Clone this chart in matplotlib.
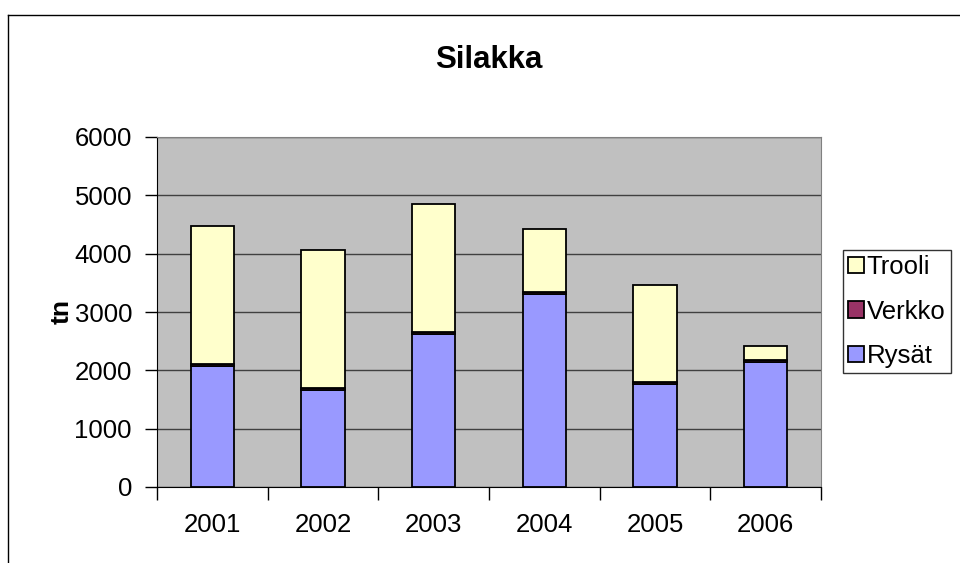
import numpy as np
import matplotlib.pyplot as plt
from matplotlib.lines import Line2D

plt.rcParams['font.family'] = ['Liberation Sans', 'DejaVu Sans']

years = ['2001', '2002', '2003', '2004', '2005', '2006']
rysat = [2070, 1670, 2630, 3310, 1770, 2150]
verkko = [35, 35, 35, 35, 35, 35]
trooli = [2375, 2365, 2195, 1075, 1655, 235]

W, H = 960, 563
fig = plt.figure(figsize=(W / 100, H / 100), dpi=100)

# outer chart border (extends past right/bottom edges)
fig.add_artist(Line2D([8 / W, 8 / W], [0, 1 - 15 / H], transform=fig.transFigure, color='black', lw=1))
fig.add_artist(Line2D([8 / W, 1], [1 - 15 / H, 1 - 15 / H], transform=fig.transFigure, color='black', lw=1))

ax = fig.add_axes([157 / W, 1 - 487 / H, (821 - 157) / W, (487 - 137) / H])
ax.set_facecolor('#C0C0C0')

x = np.arange(len(years))
bw = 0.39
r = np.array(rysat)
v = np.array(verkko)
t = np.array(trooli)
b1 = ax.bar(x, r, bw, color='#9999FF', edgecolor='black', lw=1.3, zorder=3, label='Rysät')
b2 = ax.bar(x, v, bw, bottom=r, color='#993366', edgecolor='black', lw=1.3, zorder=3, label='Verkko')
b3 = ax.bar(x, t, bw, bottom=r + v, color='#FFFFCC', edgecolor='black', lw=1.3, zorder=3, label='Trooli')

ax.set_xlim(-0.5, len(years) - 0.5)
ax.set_ylim(0, 6000)
ax.set_yticks(range(0, 6001, 1000))
ax.yaxis.grid(True, color='#404040', lw=1, zorder=1)
ax.set_axisbelow(True)

ax.set_xticks(x)
ax.set_xticklabels(years)
ax.set_xticks(np.arange(-0.5, len(years), 1), minor=True)
ax.tick_params(axis='x', which='major', length=0, pad=19, labelsize=18.5)
ax.tick_params(axis='x', which='minor', length=9, width=1, direction='out')
ax.tick_params(axis='y', length=9, width=1, pad=9, labelsize=18.5)

for s in ['top', 'right']:
    ax.spines[s].set_color('#808080')
for s in ['left', 'bottom']:
    ax.spines[s].set_color('black')

ax.set_title('Silakka', fontsize=22.5, fontweight='bold', pad=50)
fig.text(62 / W, 1 - 312 / H, 'tn', rotation=90, fontsize=19, fontweight='bold', ha='center', va='center')

leg = fig.legend([b3, b2, b1], ['Trooli', 'Verkko', 'Rysät'], loc='upper left',
                 bbox_to_anchor=(843 / W, 1 - 250 / H), fontsize=18.5, frameon=True,
                 fancybox=False, edgecolor='black', handlelength=0.6, handleheight=0.6,
                 handletextpad=0.12, labelspacing=0.8, borderpad=0.2, borderaxespad=0)
leg.get_frame().set_linewidth(1)

fig.savefig('out.png', dpi=100)
